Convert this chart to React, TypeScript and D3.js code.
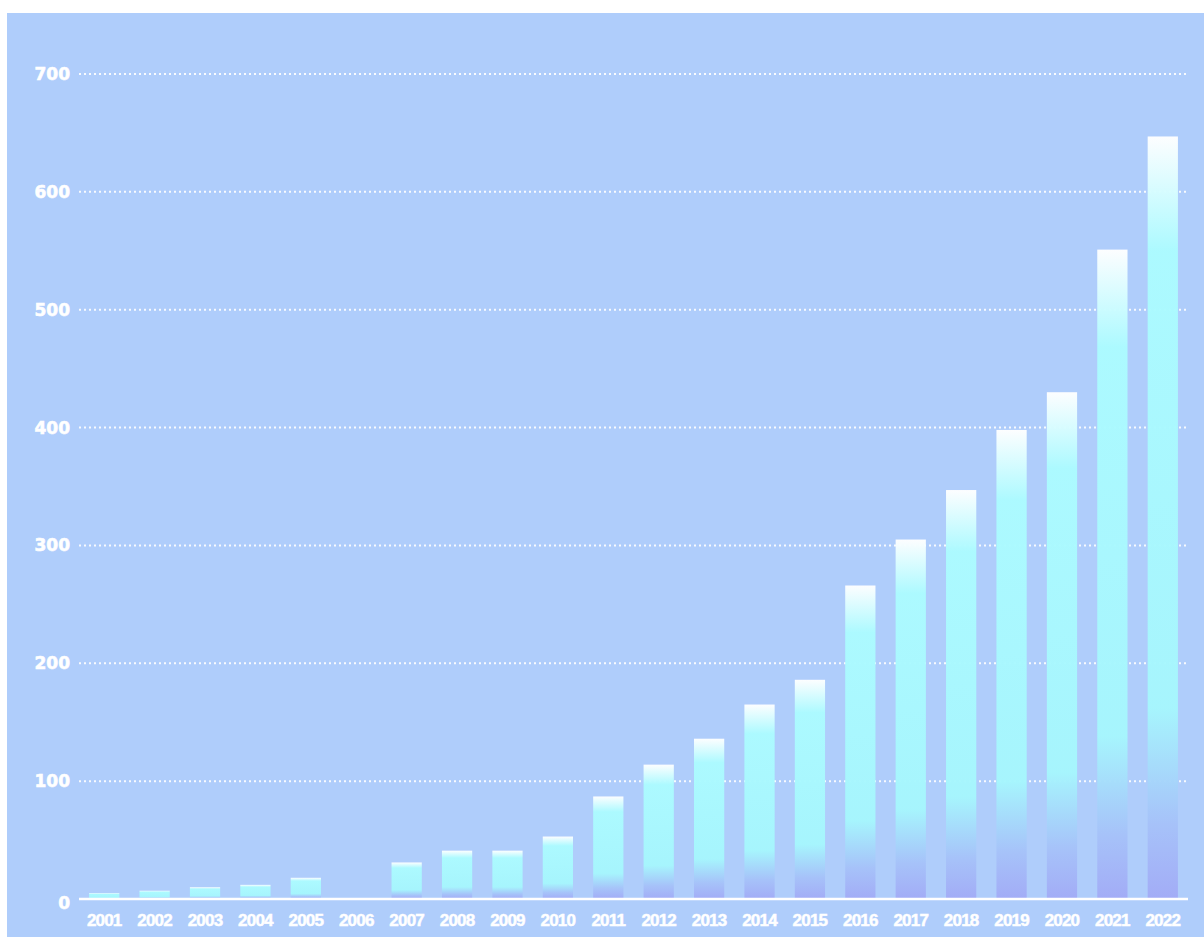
import React from "react";
import * as d3 from "d3";

const years = ["2001","2002","2003","2004","2005","2006","2007","2008","2009","2010","2011","2012","2013","2014","2015","2016","2017","2018","2019","2020","2021","2022"];
const values = [5, 7, 10, 12, 18, 0, 31, 41, 41, 53, 87, 114, 136, 165, 186, 266, 305, 347, 398, 430, 551, 647];
const yTicks = [0, 100, 200, 300, 400, 500, 600, 700];

const W = 1204;
const H = 937;

export default function App() {
  const x = d3.scaleBand<string>().domain(years).range([79, 1188]).paddingInner(0.4).paddingOuter(0.2);
  const y = d3.scaleLinear().domain([0, 700]).range([899, 74]);

  return (
    <svg width={W} height={H} style={{ position: "absolute", left: 0, top: 0 }}>
      <defs>
        <linearGradient id="barGrad" x1="0" y1="0" x2="0" y2="1">
          <stop offset="0" stopColor="#ffffff" />
          <stop offset="0.15" stopColor="#acfbff" />
          <stop offset="0.75" stopColor="#a6f6fd" />
          <stop offset="0.9" stopColor="#a6c2f9" />
          <stop offset="1" stopColor="#a2abf6" />
        </linearGradient>
      </defs>
      <rect x={7} y={13} width={W - 7} height={H - 13} fill="#afcdfb" />
      {yTicks.map((t) => (
        <g key={t}>
          {t > 0 && (
            <line x1={79} x2={1188} y1={y(t)} y2={y(t)} stroke="#ffffff" strokeWidth={2} strokeDasharray="2,3" opacity={0.9} />
          )}
          <text
            x={70}
            y={t === 0 ? y(t) + 4 : y(t)}
            textAnchor="end"
            dominantBaseline="central"
            fill="#ffffff"
            stroke="#ffffff"
            strokeWidth={0.6}
            fontFamily="DejaVu Sans"
            fontWeight="bold"
            fontSize={17}
          >
            {t}
          </text>
        </g>
      ))}
      {years.map((yr, i) => {
        const v = values[i];
        const h = y(0) - y(v);
        return (
          <rect
            key={yr}
            x={x(yr)}
            y={y(v)}
            width={x.bandwidth()}
            height={h}
            fill="url(#barGrad)"
            opacity={0.97}
          />
        );
      })}
      <line x1={79} x2={1188} y1={y(0)} y2={y(0)} stroke="#ffffff" strokeWidth={2.5} />
      {years.map((yr) => (
        <text
          key={yr}
          x={(x(yr) as number) + x.bandwidth() / 2}
          y={920}
          textAnchor="middle"
          dominantBaseline="central"
          fill="#ffffff"
          stroke="#ffffff"
          strokeWidth={0.5}
          fontFamily="Liberation Sans"
          fontWeight="bold"
          fontSize={17}
          letterSpacing={-0.8}
        >
          {yr}
        </text>
      ))}
    </svg>
  );
}
